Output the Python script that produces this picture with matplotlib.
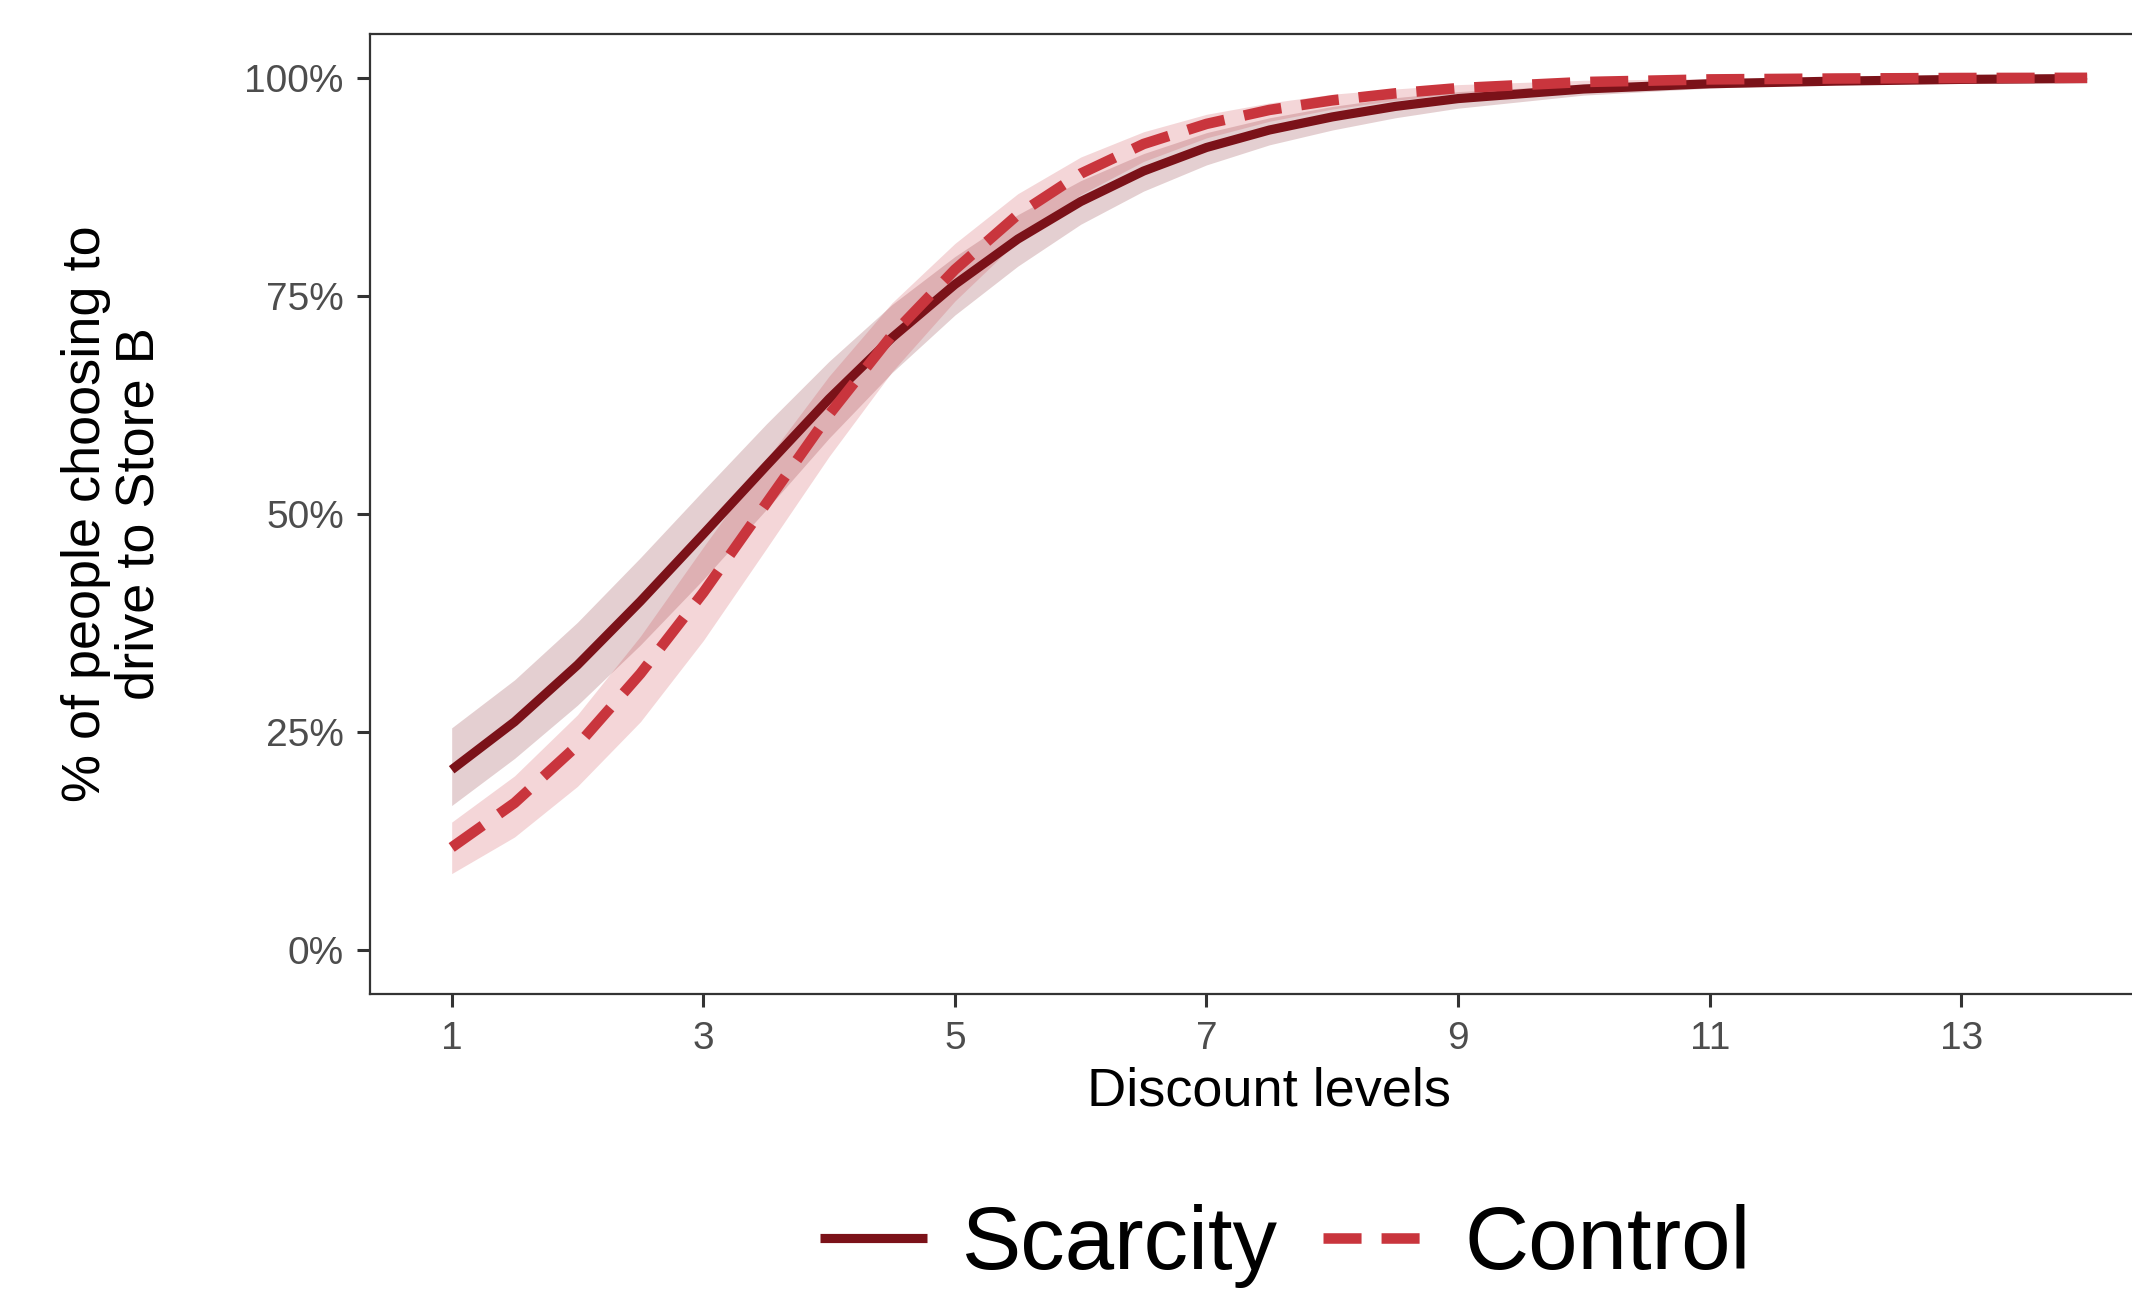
import matplotlib
matplotlib.use("Agg")
import matplotlib.pyplot as plt
from matplotlib.ticker import PercentFormatter

plt.rcParams['font.family'] = ['Liberation Sans', 'DejaVu Sans']
plt.rcParams['lines.scale_dashes'] = False

discount = [1, 1.5, 2, 2.5, 3, 3.5, 4, 4.5, 5, 5.5, 6, 6.5, 7, 7.5,
            8, 8.5, 9, 10, 11, 12, 13, 14]

scarcity = [0.207, 0.262, 0.327, 0.400, 0.477, 0.555, 0.632, 0.702, 0.763,
            0.815, 0.858, 0.893, 0.920, 0.940, 0.955, 0.967, 0.976, 0.987,
            0.993, 0.996, 0.998, 0.999]
scarcity_lo = [0.166, 0.220, 0.281, 0.350, 0.425, 0.505, 0.587, 0.662, 0.728,
               0.784, 0.832, 0.870, 0.900, 0.923, 0.940, 0.954, 0.965, 0.980,
               0.988, 0.993, 0.996, 0.998]
scarcity_hi = [0.255, 0.310, 0.376, 0.450, 0.527, 0.603, 0.675, 0.740, 0.795,
               0.843, 0.882, 0.913, 0.937, 0.954, 0.967, 0.977, 0.984, 0.992,
               0.996, 0.998, 0.999, 1.000]

control = [0.118, 0.169, 0.235, 0.317, 0.410, 0.512, 0.614, 0.705, 0.780,
           0.843, 0.890, 0.924, 0.947, 0.963, 0.974, 0.982, 0.988, 0.995,
           0.998, 0.999, 0.9996, 0.9998]
control_lo = [0.088, 0.130, 0.188, 0.262, 0.355, 0.460, 0.566, 0.663, 0.744,
              0.813, 0.866, 0.904, 0.931, 0.950, 0.964, 0.974, 0.982, 0.992,
              0.996, 0.998, 0.9992, 0.9995]
control_hi = [0.147, 0.200, 0.270, 0.360, 0.462, 0.562, 0.658, 0.742, 0.810,
              0.867, 0.909, 0.938, 0.958, 0.971, 0.981, 0.987, 0.992, 0.997,
              0.999, 0.9996, 0.9998, 1.000]

dark = '#7b1219'
light = '#c9353d'

fig = plt.figure(figsize=(10.66, 6.465), dpi=200)
ax = fig.add_axes([0.1735, 0.2312, 0.8438, 0.7425])

ax.fill_between(discount, scarcity_lo, scarcity_hi, color=dark, alpha=0.2, lw=0)
ax.fill_between(discount, control_lo, control_hi, color=light, alpha=0.2, lw=0)
l1, = ax.plot(discount, scarcity, color=dark, lw=3.3, solid_capstyle='butt',
              solid_joinstyle='round', label='Scarcity')
l2, = ax.plot(discount, control, color=light, lw=3.8, dashes=(13.7, 7.2),
              dash_capstyle='butt', dash_joinstyle='round', label='Control')

ax.set_xlim(0.35, 14.65)
ax.set_ylim(-0.05, 1.05)
ax.set_xticks([1, 3, 5, 7, 9, 11, 13])
ax.set_yticks([0, 0.25, 0.5, 0.75, 1.0])
ax.yaxis.set_major_formatter(PercentFormatter(1.0, decimals=0))

for s in ax.spines.values():
    s.set_color('#333333')
    s.set_linewidth(0.8)
ax.tick_params(length=4.7, width=1.1, color='#333333', labelsize=14,
               labelcolor='#4d4d4d')
ax.tick_params(axis='x', pad=5)
ax.tick_params(axis='y', pad=4.7)

fig.text(1269 / 2132, 1 - 1092 / 1293, 'Discount levels', fontsize=19.5,
         ha='center', va='center')
fig.text(113 / 2132, 1 - 514 / 1293, '% of people choosing to\ndrive to Store B',
         fontsize=19.5, rotation=90, ha='center', va='center', linespacing=1.1)

fig.legend(handles=[l1, l2], loc='center', bbox_to_anchor=(0.603, 0.036),
           ncol=2, frameon=False, fontsize=32, handlelength=1.2,
           handletextpad=0.4, columnspacing=0.5, borderaxespad=0)

fig.savefig('out.png', dpi=200)
